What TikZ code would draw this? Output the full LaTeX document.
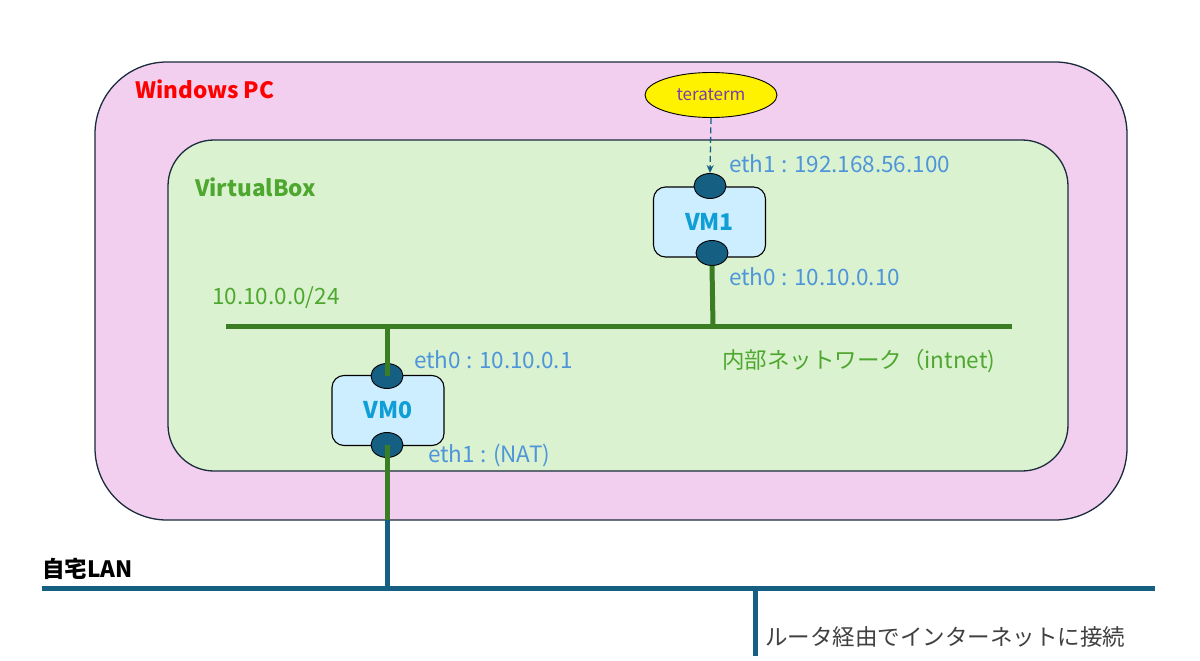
\documentclass[tikz,border=0pt]{standalone}
\usepackage{fontspec}
\setmainfont{Noto Sans CJK JP}
\usetikzlibrary{shapes.geometric,arrows.meta}
\definecolor{pcpink}{HTML}{F2CEEF}
\definecolor{vbgreen}{HTML}{DAF2D0}
\definecolor{vmfill}{HTML}{CCEEFF}
\definecolor{portblue}{HTML}{156082}
\definecolor{netgreen}{HTML}{3B7D23}
\definecolor{lblblue}{HTML}{4E95D9}
\definecolor{txtgreen}{HTML}{4EA72E}
\definecolor{vmtext}{HTML}{0F9ED5}
\definecolor{termtxt}{HTML}{7A3FA8}
\definecolor{darkline}{HTML}{1A2B3C}
\tikzset{
  container/.style={draw=darkline, line width=1.3pt},
  vmbox/.style={draw=black, fill=vmfill, rounded corners=12pt, minimum width=112pt, minimum height=70pt, line width=1.1pt, inner sep=0pt, font=\fontsize{23}{26}\selectfont\bfseries, text=vmtext},
  port/.style={ellipse, draw=black, fill=portblue, minimum width=32pt, minimum height=25pt, inner sep=0pt, line width=0.9pt},
  iflabel/.style={anchor=west, text=lblblue, font=\fontsize{22.5}{26}\selectfont, inner sep=0pt},
  greenlbl/.style={anchor=west, text=txtgreen, font=\fontsize{22.5}{26}\selectfont, inner sep=0pt},
  titlelbl/.style={anchor=west, font=\fontsize{22.5}{26}\selectfont\bfseries, inner sep=0pt},
  netline/.style={netgreen, line width=5pt},
  lanline/.style={portblue, line width=5pt},
}
\begin{document}
\begin{tikzpicture}[x=1pt,y=-1pt]
\useasboundingbox[fill=white] (0,0) rectangle (1200,661);
% containers
\draw[container, fill=pcpink, rounded corners=72pt] (95,62) rectangle (1127,520);
\node[titlelbl, text=red] (pc) at (135,89) {Windows PC};
\draw[container, fill=vbgreen, rounded corners=46pt] (168,140) rectangle (1068,471);
\node[titlelbl, text=txtgreen] (vb) at (195,187) {VirtualBox};

% teraterm
\node[ellipse, draw=black, fill=yellow, minimum width=132pt, minimum height=45pt, inner sep=0pt, line width=0.9pt, text=termtxt, font=\fontsize{17}{20}\selectfont] (tt) at (711,95) {teraterm};

% VMs
\node[vmbox] (vm1) at (709.5,222) {VM1};
\node[vmbox] (vm0) at (388,410.5) {VM0};
\node[port] (vm1t) at (710,186) {};
\node[port] (vm1b) at (712,253) {};
\node[port] (vm0t) at (387,376) {};
\node[port] (vm0b) at (387,445) {};

% dashed arrow
\draw[portblue, line width=1.3pt, dash pattern=on 6pt off 3.5pt, -{Stealth[length=8pt,width=7pt]}] (tt.south) -- (vm1t.north);

% internal network
\coordinate (busL) at (226,326);
\coordinate (busR) at (1012,326);
\coordinate (bus1) at (713,326);
\coordinate (bus0) at (387,326);
\draw[netline] (busL) -- (busR);
\draw[netline] (vm1b.south) -- (bus1);
\draw[netline] (bus0) -- (vm0t.center);
\coordinate (pcb) at (387,520);
\draw[netline] (vm0b.center) -- (pcb);

% home LAN
\coordinate (lanL) at (42,588);
\coordinate (lanR) at (1155,588);
\coordinate (lan0) at (387,588);
\coordinate (rtTop) at (755,588);
\coordinate (rtBot) at (755,656);
\draw[lanline] (pcb) -- (lan0);
\draw[lanline] (lanL) -- (lanR);
\draw[lanline] (rtTop) -- (rtBot);

% labels
\node[iflabel] (l1) at (729,164) {eth1 : 192.168.56.100};
\node[iflabel] (l2) at (729,277) {eth0 : 10.10.0.10};
\node[iflabel] (l3) at (414,360) {eth0 : 10.10.0.1};
\node[iflabel] (l4) at (428,455) {eth1 : (NAT)};
\node[greenlbl] (net) at (212,298) {10.10.0.0/24};
\node[greenlbl] (intnet) at (722,361) {内部ネットワーク（intnet)};
\node[titlelbl, text=black] (lan) at (42,569) {自宅LAN};
\node[anchor=west, inner sep=0pt, text=black!75, font=\fontsize{22.5}{26}\selectfont] (rt) at (765,637) {ルータ経由でインターネットに接続};
\end{tikzpicture}
\end{document}
